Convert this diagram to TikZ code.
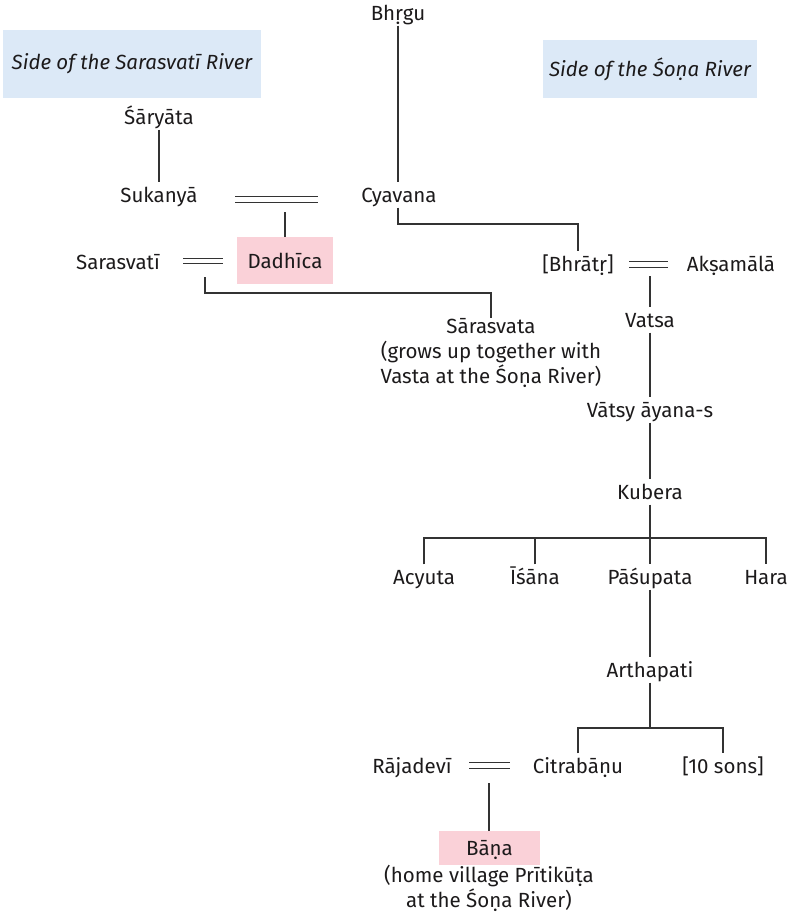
\documentclass[tikz,border=0pt]{standalone}
\usepackage{fontspec}
\setmainfont{Fira Sans}
\usetikzlibrary{calc}
\definecolor{ink}{HTML}{1C1A1B}
\definecolor{lnc}{HTML}{333333}
\definecolor{bluebg}{HTML}{DCE9F7}
\definecolor{pinkbg}{HTML}{FAD1D8}
\tikzset{
  txt/.style={font=\fontsize{20.5}{25}\selectfont, text=ink},
  person/.style={txt, text height=15pt, text depth=0pt, inner xsep=2pt, inner ysep=5pt},
  note/.style={txt, align=center, inner sep=0pt},
  riverbox/.style={txt, font=\fontsize{20.5}{25}\selectfont\itshape, fill=bluebg, inner sep=0pt},
  hlbox/.style={person, fill=pinkbg, inner sep=0pt},
  kin/.style={draw=lnc, line width=1.1pt},
}
\newcommand{\wedline}[2]{%
  \draw[kin] ([yshift=2.6pt]#1) -- ([yshift=2.6pt]#2);
  \draw[kin] ([yshift=-2.6pt]#1) -- ([yshift=-2.6pt]#2);}
\begin{document}
\begin{tikzpicture}[x=1pt,y=-1pt]
\useasboundingbox (0,0) rectangle (788,914);
% river labels
\node[riverbox, minimum width=258pt, minimum height=68pt] (riverL) at (132,64) {Side of the Sarasvatī River};
\node[riverbox, minimum width=214pt, minimum height=58pt] (riverR) at (650,69) {Side of the Śoṇa River};
% people
\node[person] (bhr) at (398,13) {Bhṛgu};
\node[person] (sary) at (159,117) {Śāryāta};
\node[person] (suk) at (159,195) {Sukanyā};
\node[person] (cya) at (399,195) {Cyavana};
\node[hlbox, minimum width=96pt, minimum height=47pt] (dad) at (285,260.5) {Dadhīca};
\node[person] (sarasvati) at (118,262) {Sarasvatī};
\node[note, anchor=north] (sarv) at (491,318) {Sārasvata\\(grows up together with\\Vasta at the Śoṇa River)};
\node[person] (bhrat) at (578,264) {[Bhrātṛ]};
\node[person] (aks) at (731,264) {Akṣamālā};
\node[person] (vatsa) at (650,320) {Vatsa};
\node[person] (vats) at (650,410) {Vātsy āyana-s};
\node[person] (kub) at (650,492) {Kubera};
\node[person] (acy) at (424,577) {Acyuta};
\node[person] (isa) at (535,577) {Īśāna};
\node[person] (pas) at (650,577) {Pāśupata};
\node[person] (har) at (766,577) {Hara};
\node[person] (arth) at (650,670) {Arthapati};
\node[person] (cit) at (578,766) {Citrabāṇu};
\node[person] (ten) at (723,766) {[10 sons]};
\node[person] (raj) at (412,766) {Rājadevī};
\node[hlbox, minimum width=101pt, minimum height=34pt] (bana) at (489.5,848) {Bāṇa};
\node[note, anchor=north] (bnote) at (489,865) {(home village Prītikūṭa\\at the Śoṇa River)};
% junction coordinates
\coordinate (m1a) at (235,199.5);
\coordinate (m1b) at (318,199.5);
\coordinate (m1c) at (285,212);
\coordinate (m2a) at (183,261);
\coordinate (m2b) at (223,261);
\coordinate (m2c) at (205,277);
\coordinate (m3a) at (629,264.5);
\coordinate (m3b) at (668,264.5);
\coordinate (m3c) at (650,276);
\coordinate (m4a) at (469,765.5);
\coordinate (m4b) at (510,765.5);
\coordinate (m4c) at (489,783);
\coordinate (j1) at (0,224);
\coordinate (j2) at (0,538);
\coordinate (j3) at (0,728);
\coordinate (j4) at (0,293);
% marriages
\wedline{m1a}{m1b}
\wedline{m2a}{m2b}
\wedline{m3a}{m3b}
\wedline{m4a}{m4b}
% descent
\draw[kin] (sary.south) -- (suk.north);
\draw[kin] (m1c) -- (m1c |- dad.north);
\draw[kin] (bhr.south) -- (bhr.south |- cya.north);
\draw[kin] (bhr.south |- cya.south) -- (bhr.south |- j1) -| (bhrat.north);
\draw[kin] (m2c) -- (m2c |- j4) -| (sarv.north);
\draw[kin] (m3c) -- (vatsa.north);
\draw[kin] (vatsa.south) -- (vats.north);
\draw[kin] (vats.south) -- (kub.north);
\draw[kin] (kub.south) -- (pas.north);
\draw[kin] (acy.north) -- (acy.north |- j2) -- (har.north |- j2) -- (har.north);
\draw[kin] (isa.north) -- (isa.north |- j2);
\draw[kin] (pas.south) -- (arth.north);
\draw[kin] (arth.south) -- (arth.south |- j3);
\draw[kin] (cit.north) -- (cit.north |- j3) -- (ten.north |- j3) -- (ten.north);
\draw[kin] (m4c) -- (m4c |- bana.north);
\end{tikzpicture}
\end{document}
